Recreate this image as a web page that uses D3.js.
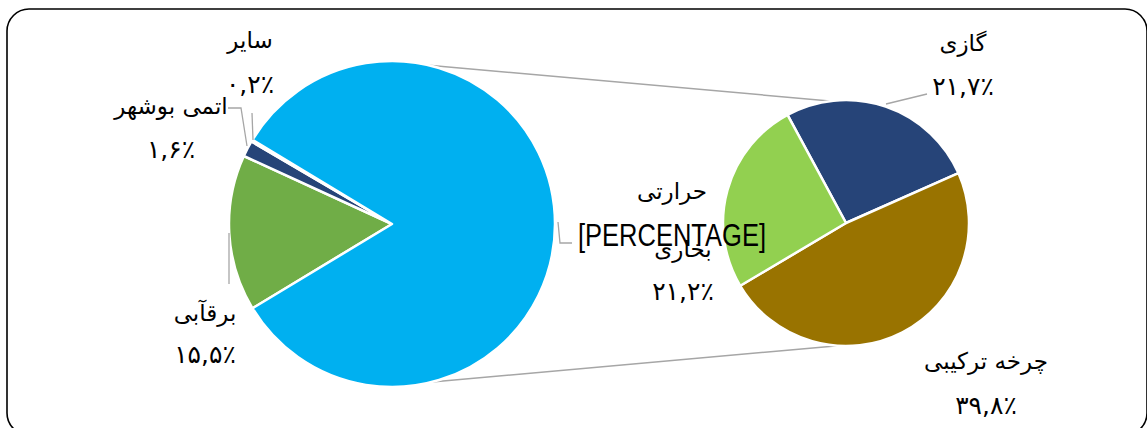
<!DOCTYPE html>
<html>
<head>
<meta charset="utf-8">
<script src="https://cdnjs.cloudflare.com/ajax/libs/d3/7.8.5/d3.min.js"></script>
<style>
  body { margin: 0; background: #fff; }
  .fa { font-family: "DejaVu Sans", sans-serif; font-size: 23px; fill: #000; }
  .num { font-family: "DejaVu Sans", sans-serif; font-size: 25px; fill: #000; }
  .pct { font-family: "Liberation Sans Narrow", "Liberation Sans", sans-serif; font-size: 31px; fill: #000; }
  .leader { stroke: #a6a6a6; stroke-width: 1.3; fill: none; }
</style>
</head>
<body>
<div id="chart"></div>
<script>
// Primary pie (share of total capacity)
const mainNames = ['برقآبی', 'اتمی بوشهر', 'سایر', 'حرارتی'];
const mainValues = [15.5, 1.6, 0.2, 82.7];
const mainLabels = ['۱۵,۵٪', '۱,۶٪', '۰,۲٪', '[PERCENTAGE]'];
const mainColors = ['#70ad47', '#264478', '#a5a5a5', '#00b0f0'];

// Secondary pie (breakdown of thermal)
const subNames = ['گازی', 'چرخه ترکیبی', 'بخاری'];
const subValues = [21.7, 39.8, 21.2];
const subLabels = ['۲۱,۷٪', '۳۹,۸٪', '۲۱,۲٪'];
const subColors = ['#264478', '#997300', '#92d050'];

const W = 1147, H = 428;
const svg = d3.select('#chart').append('svg')
  .attr('width', W).attr('height', H);

// chart frame
svg.append('rect')
  .attr('x', 7).attr('y', 9)
  .attr('width', 1140).attr('height', 426)
  .attr('rx', 22).attr('ry', 22)
  .attr('fill', '#fff').attr('stroke', '#000').attr('stroke-width', 1.6);

const deg = Math.PI / 180;
const main = { cx: 392, cy: 224, r: 163 };
const sub = { cx: 846, cy: 223, r: 123 };

// small slices are centred on the left, thermal faces the secondary pie
const smallShare = d3.sum(mainValues.slice(0, 3)) / d3.sum(mainValues);
const mainStart = 270 * deg - smallShare * Math.PI;

const mainPie = d3.pie().sort(null).value(d => d)
  .startAngle(mainStart).endAngle(mainStart + 2 * Math.PI);
const subStart = -28.4 * deg;
const subPie = d3.pie().sort(null).value(d => d)
  .startAngle(subStart).endAngle(subStart + 2 * Math.PI);

const pt = (p, a, r) => [p.cx + r * Math.sin(a), p.cy - r * Math.cos(a)];

// connector lines between the pies
const connectors = [[13 * deg, 17.6 * deg], [165.8 * deg, 183.7 * deg]];
connectors.forEach(([a, b]) => {
  const p1 = pt(main, a, main.r), p2 = pt(sub, b, sub.r);
  svg.append('line')
    .attr('x1', p1[0]).attr('y1', p1[1])
    .attr('x2', p2[0]).attr('y2', p2[1])
    .attr('stroke', '#a6a6a6').attr('stroke-width', 1.5);
});

const mainArc = d3.arc().innerRadius(0).outerRadius(main.r);
svg.append('g')
  .attr('transform', `translate(${main.cx},${main.cy})`)
  .selectAll('path')
  .data(mainPie(mainValues))
  .join('path')
  .attr('d', mainArc)
  .attr('fill', (d, i) => mainColors[i])
  .attr('stroke', '#fff').attr('stroke-width', 2.5).attr('stroke-linejoin', 'round');

const subArc = d3.arc().innerRadius(0).outerRadius(sub.r);
svg.append('g')
  .attr('transform', `translate(${sub.cx},${sub.cy})`)
  .selectAll('path')
  .data(subPie(subValues))
  .join('path')
  .attr('d', subArc)
  .attr('fill', (d, i) => subColors[i])
  .attr('stroke', '#fff').attr('stroke-width', 2.5).attr('stroke-linejoin', 'round');

// leader lines
const leaders = [
  [[229, 233], [229, 284]],
  [[228, 108], [241, 108], [247, 146]],
  [[252, 113], [253, 140]],
  [[558, 222], [560, 243], [572, 243]],
  [[927, 94], [886, 104]]
];
leaders.forEach(pts => {
  svg.append('path').attr('class', 'leader').attr('d', d3.line()(pts));
});

// label placement: [x, name baseline, value baseline]
const mainPos = [[205, 321, 363], [171, 114, 158], [250, 48, 93], [672, 199, 246]];
const subPos = [[963, 51, 95], [986, 369, 414], [683, 257, 300]];

function addLabel(name, value, pos) {
  svg.append('text').attr('class', 'fa')
    .attr('x', pos[0]).attr('y', pos[1])
    .attr('text-anchor', 'middle').attr('direction', 'rtl')
    .text(name);
  const t = svg.append('text')
    .attr('x', pos[0]).attr('y', pos[2])
    .attr('text-anchor', 'middle')
    .text(value);
  if (value.startsWith('[')) {
    t.attr('class', 'pct').attr('textLength', 188).attr('lengthAdjust', 'spacingAndGlyphs');
  } else {
    t.attr('class', 'num').attr('direction', 'rtl');
  }
}

subNames.forEach((n, i) => addLabel(n, subLabels[i], subPos[i]));
mainNames.forEach((n, i) => addLabel(n, mainLabels[i], mainPos[i]));
</script>
</body>
</html>
